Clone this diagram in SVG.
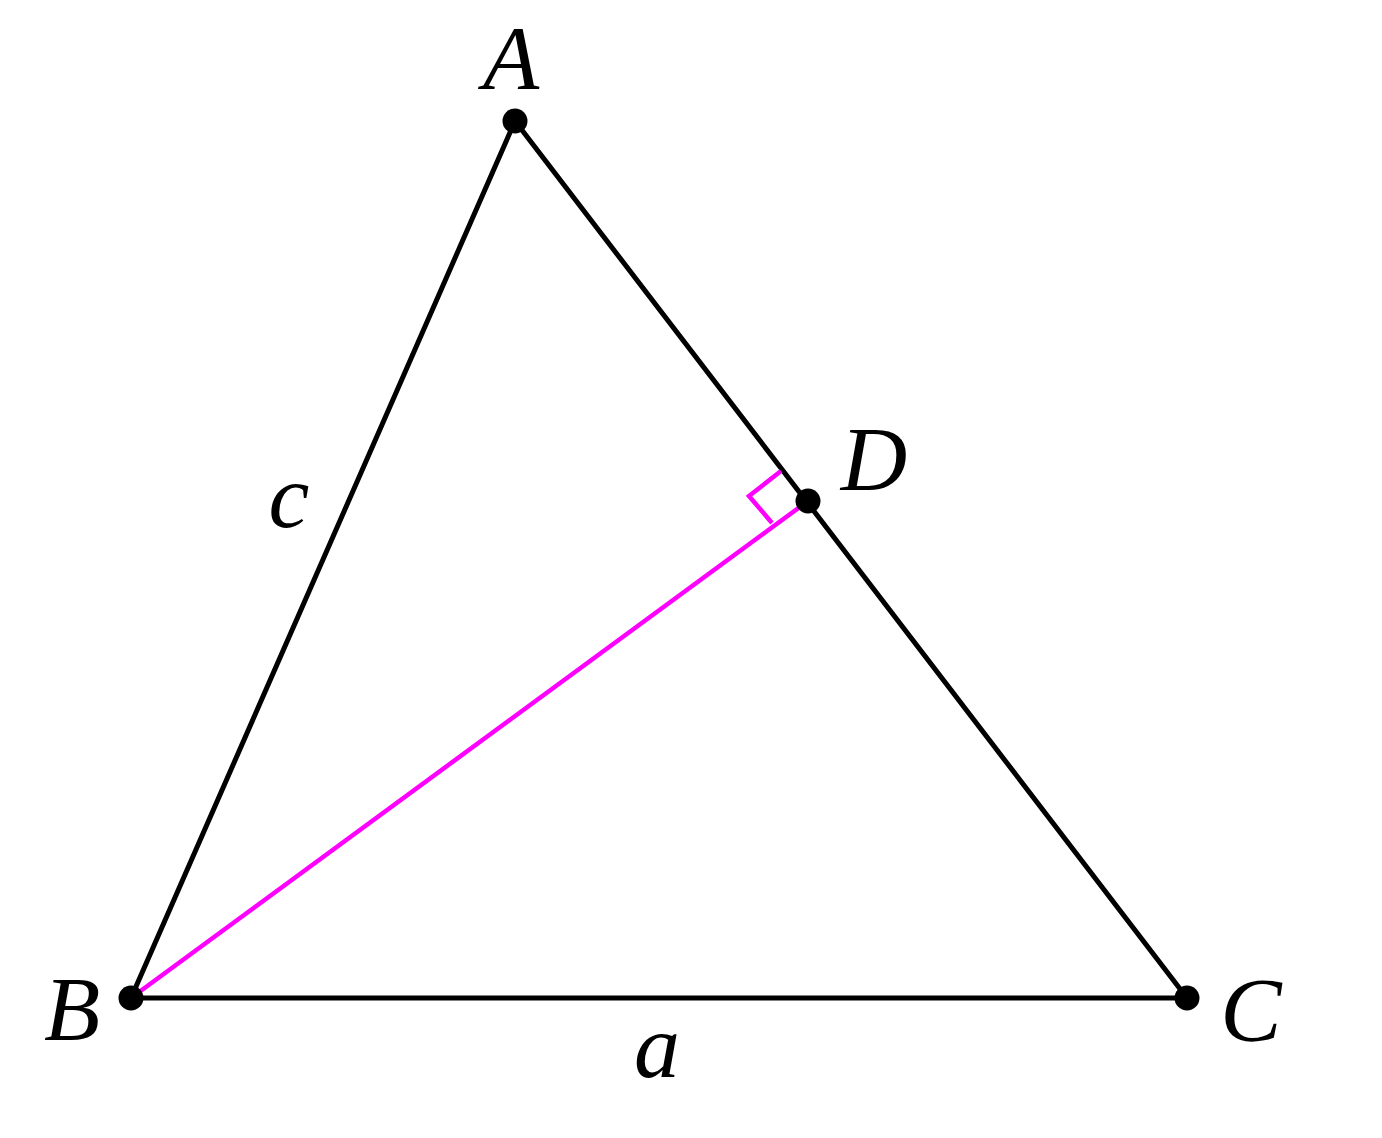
<svg xmlns="http://www.w3.org/2000/svg" width="1382" height="1138" viewBox="0 0 1382 1138">
<style>
.edge{stroke:#000;stroke-width:5;fill:none;stroke-linecap:round}
.alt{stroke:#f0f;stroke-width:4.5;fill:none}
.dot{fill:#000}
.lbl{font-family:"Liberation Serif","DejaVu Serif",serif;font-style:italic;font-size:92px;fill:#000;text-anchor:middle}
</style>
<rect width="1382" height="1138" fill="#fff"/>
<g id="connectors">
<line class="edge" x1="515" y1="121" x2="131" y2="998"/>
<line class="edge" x1="515" y1="121" x2="1187" y2="998"/>
<line class="edge" x1="131" y1="998" x2="1187" y2="998"/>
<line class="alt" x1="131" y1="998" x2="808" y2="501"/>
<polyline class="alt" points="781,471 749,496 772,523"/>
</g>
<g id="node-A"><circle class="dot" cx="515" cy="121" r="12.5"/><text class="lbl" x="511" y="89">A</text></g>
<g id="node-B"><circle class="dot" cx="131" cy="998" r="12.5"/><text class="lbl" x="72" y="1040">B</text></g>
<g id="node-C"><circle class="dot" cx="1187" cy="998" r="12.5"/><text class="lbl" x="1251" y="1041">C</text></g>
<g id="node-D"><circle class="dot" cx="808" cy="501" r="12.5"/><text class="lbl" x="874" y="490">D</text></g>
<g id="label-c"><text class="lbl" x="289" y="527">c</text></g>
<g id="label-a"><text class="lbl" x="657" y="1077">a</text></g>
</svg>
